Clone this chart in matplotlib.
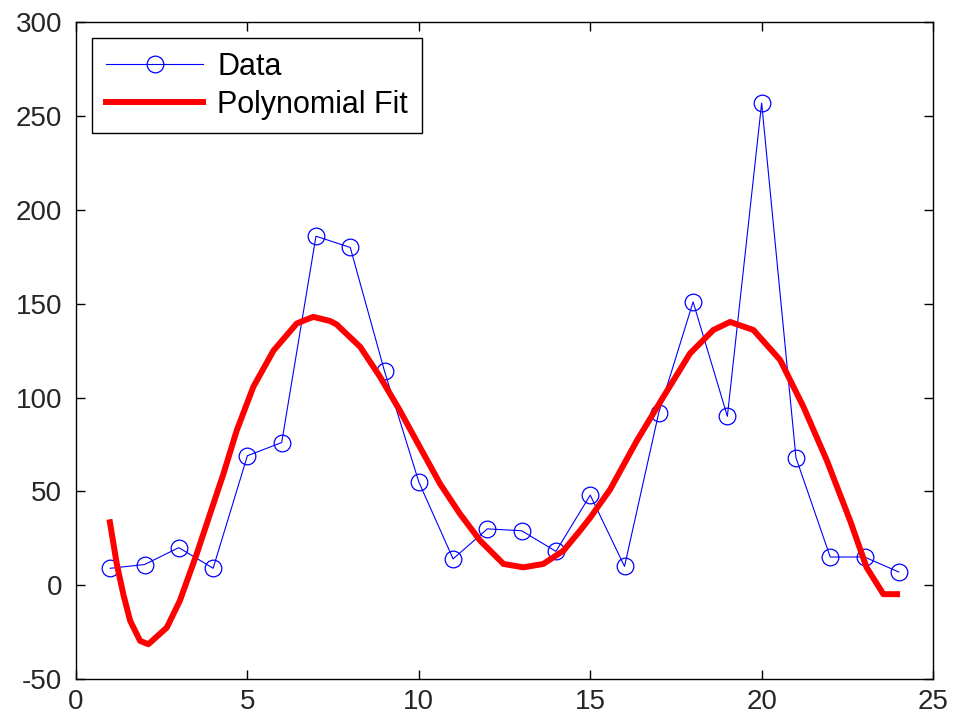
import matplotlib
matplotlib.use("Agg")
import matplotlib.pyplot as plt

# Data series
data_x = list(range(1, 25))
data_y = [9, 11, 20, 9, 69, 76, 186, 180, 114, 55, 14, 30, 29, 18, 48, 10,
          92, 151, 90, 257, 68, 15, 15, 7]

# Polynomial fit curve
fit_x = [0.99, 1.19, 1.38, 1.58, 1.87, 2.11, 2.65, 3.03, 3.52, 3.91, 4.3,
         4.69, 5.17, 5.76, 6.44, 6.92, 7.41, 7.6, 8.29, 8.87, 9.45, 10.03,
         10.62, 11.2, 11.79, 12.47, 13.05, 13.63, 14.22, 14.7, 15.0, 15.58,
         16.36, 17.13, 17.91, 18.59, 19.08, 19.76, 20.54, 21.22, 21.9, 22.58,
         23.06, 23.55, 23.95]
fit_y = [33.5, 11.3, -4.8, -19, -29.7, -31.5, -22.6, -8.3, 16.6, 38, 59.3,
         82.5, 105.6, 125, 139.5, 143, 140.8, 139, 127, 111, 93, 73.6,
         54, 38, 23.7, 11.3, 9.5, 11.3, 18.4, 29, 36, 51,
         77, 100.3, 123.5, 136, 140.3, 136, 120, 95, 66.5, 34.4,
         9.5, -4.8, -4.8]

x_ticks = [0, 5, 10, 15, 20, 25]
y_ticks = [-50, 0, 50, 100, 150, 200, 250, 300]

plt.rcParams['font.family'] = ['Liberation Sans', 'DejaVu Sans']
plt.rcParams['axes.unicode_minus'] = False

fig = plt.figure(figsize=(9.57, 7.2), dpi=100)
ax = fig.add_axes([0.0794, 0.057, 0.8956, 0.912])

ax.plot(data_x, data_y, color='#0000ff', linewidth=0.8, marker='o',
        markersize=12, markerfacecolor='none', markeredgecolor='#0000ff',
        markeredgewidth=0.9, label='Data')
ax.plot(fit_x, fit_y, color='#ff0000', linewidth=4.3, label='Polynomial Fit',
        solid_joinstyle='round')

ax.set_xlim(0, 25)
ax.set_ylim(-50, 300)
ax.set_xticks(x_ticks)
ax.set_yticks(y_ticks)
ax.tick_params(direction='in', length=6.5, width=1, labelsize=20, colors='black',
               top=True, right=True)
ax.tick_params(axis='x', pad=7)
ax.tick_params(axis='y', pad=10)
for lab in ax.get_xticklabels() + ax.get_yticklabels():
    lab.set_color('#262626')
for sp in ax.spines.values():
    sp.set_linewidth(1.0)

leg = ax.legend(loc='upper left', fontsize=22, frameon=True, fancybox=False,
                edgecolor='black', framealpha=1, handlelength=3.2,
                handletextpad=0.45, borderaxespad=0.52, borderpad=0.45,
                labelspacing=0.25)
leg.get_frame().set_linewidth(1.0)

fig.savefig('out.png', dpi=100)
